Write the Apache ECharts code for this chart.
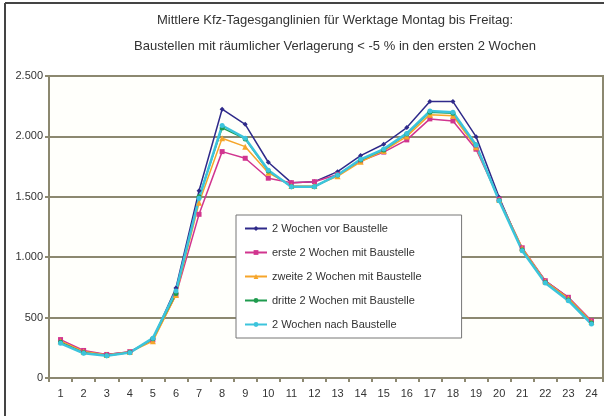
<!DOCTYPE html>
<html>
<head>
<meta charset="utf-8">
<script src="https://cdn.jsdelivr.net/npm/echarts@6/dist/echarts.min.js"></script>
<style>
  html, body { margin: 0; padding: 0; background: #fff; }
  #chart { width: 604px; height: 416px; }
</style>
</head>
<body>
<div id="chart"></div>
<script>
// Stunden des Tages
const hours = ['1','2','3','4','5','6','7','8','9','10','11','12','13','14','15','16','17','18','19','20','21','22','23','24'];

const seriesNames = [
  '2 Wochen vor Baustelle',
  'erste 2 Wochen mit Baustelle',
  'zweite 2 Wochen mit Baustelle',
  'dritte 2 Wochen mit Baustelle',
  '2 Wochen nach Baustelle'
];

const vorBaustelle = [300, 215, 195, 215, 320, 745, 1550, 2225, 2100, 1786, 1617, 1625, 1708, 1841, 1935, 2073, 2288, 2288, 1998, 1496, 1060, 805, 665, 470];
const ersteWochen  = [318, 228, 195, 218, 315, 688, 1355, 1874, 1819, 1654, 1617, 1625, 1685, 1795, 1870, 1971, 2145, 2128, 1894, 1480, 1078, 805, 668, 474];
const zweiteWochen = [305, 220, 190, 215, 305, 688, 1450, 1985, 1915, 1700, 1590, 1590, 1670, 1790, 1880, 2000, 2180, 2170, 1910, 1475, 1075, 800, 660, 465];
const dritteWochen = [295, 210, 185, 212, 325, 700, 1500, 2070, 1979, 1714, 1584, 1584, 1681, 1805, 1888, 2020, 2200, 2192, 1929, 1470, 1060, 790, 645, 455];
const nachBaustelle= [287, 205, 185, 210, 330, 720, 1488, 2090, 1985, 1720, 1584, 1584, 1681, 1810, 1895, 2025, 2210, 2200, 1929, 1468, 1054, 787, 640, 447];

const allData = [vorBaustelle, ersteWochen, zweiteWochen, dritteWochen, nachBaustelle];
const colorList = ['#2f2a8a', '#d1358f', '#f6a52a', '#1f9b4e', '#3cc4dc'];
const symbols = ['diamond', 'rect', 'triangle', 'circle', 'circle'];
const lineWidths = [1.5, 1.5, 1.5, 1.5, 2.5];

const gridColor = '#8c8870';

const fmt = v => v >= 1000 ? Math.floor(v / 1000) + '.' + String(v % 1000).padStart(3, '0') : String(v);

const myChart = echarts.init(document.getElementById('chart'));

const series = allData.map((d, i) => ({
  name: seriesNames[i],
  type: 'line',
  data: d,
  symbol: symbols[i],
  symbolSize: i === 2 ? 6 : 5,
  showSymbol: true,
  lineStyle: { width: lineWidths[i], color: colorList[i] },
  itemStyle: { color: colorList[i] },
  emphasis: { disabled: true }
}));

const option = {
  animation: false,
  color: colorList,
  textStyle: { fontFamily: 'Liberation Sans, Arial, sans-serif' },
  title: {
    text: 'Mittlere Kfz-Tagesganglinien für Werktage Montag bis Freitag:\nBaustellen mit räumlicher Verlagerung < -5 % in den ersten 2 Wochen',
    left: 330,
    top: 2,
    textAlign: 'center',
    textStyle: {
      fontSize: 13,
      fontWeight: 'normal',
      color: '#333',
      lineHeight: 26,
      fontFamily: 'Liberation Sans, Arial, sans-serif'
    }
  },
  grid: {
    left: 49,
    right: 1,
    top: 76,
    bottom: 38,
    show: true,
    borderColor: gridColor,
    borderWidth: 2,
    backgroundColor: '#fffffb'
  },
  legend: {
    orient: 'vertical',
    left: 236,
    top: 215,
    width: 222,
    itemGap: 13,
    itemWidth: 22,
    itemHeight: 6,
    padding: [8, 40, 8, 8],
    backgroundColor: '#fff',
    borderColor: '#777',
    borderWidth: 1,
    textStyle: { fontSize: 11, color: '#333', fontFamily: 'Liberation Sans, Arial, sans-serif' },
    data: seriesNames
  },
  xAxis: {
    type: 'category',
    data: hours,
    boundaryGap: true,
    axisLine: { lineStyle: { color: gridColor, width: 2 } },
    axisTick: { show: true, inside: false, length: 4, lineStyle: { color: gridColor, width: 2 } },
    axisLabel: { fontSize: 11, color: '#333', margin: 10 }
  },
  yAxis: {
    type: 'value',
    min: 0,
    max: 2500,
    interval: 500,
    axisLine: { show: true, lineStyle: { color: gridColor, width: 2 } },
    axisTick: { show: true, length: 4, lineStyle: { color: gridColor, width: 2 } },
    axisLabel: { fontSize: 11, color: '#333', margin: 6, formatter: fmt },
    splitLine: { show: true, lineStyle: { color: gridColor, width: 2 } }
  },
  graphic: [
    { type: 'line', shape: { x1: 5, y1: 3, x2: 5, y2: 416 }, style: { stroke: '#444', lineWidth: 2 } },
    { type: 'line', shape: { x1: 5, y1: 3, x2: 604, y2: 3 }, style: { stroke: '#444', lineWidth: 2 } }
  ],
  series: series
};

myChart.setOption(option);
</script>
</body>
</html>
